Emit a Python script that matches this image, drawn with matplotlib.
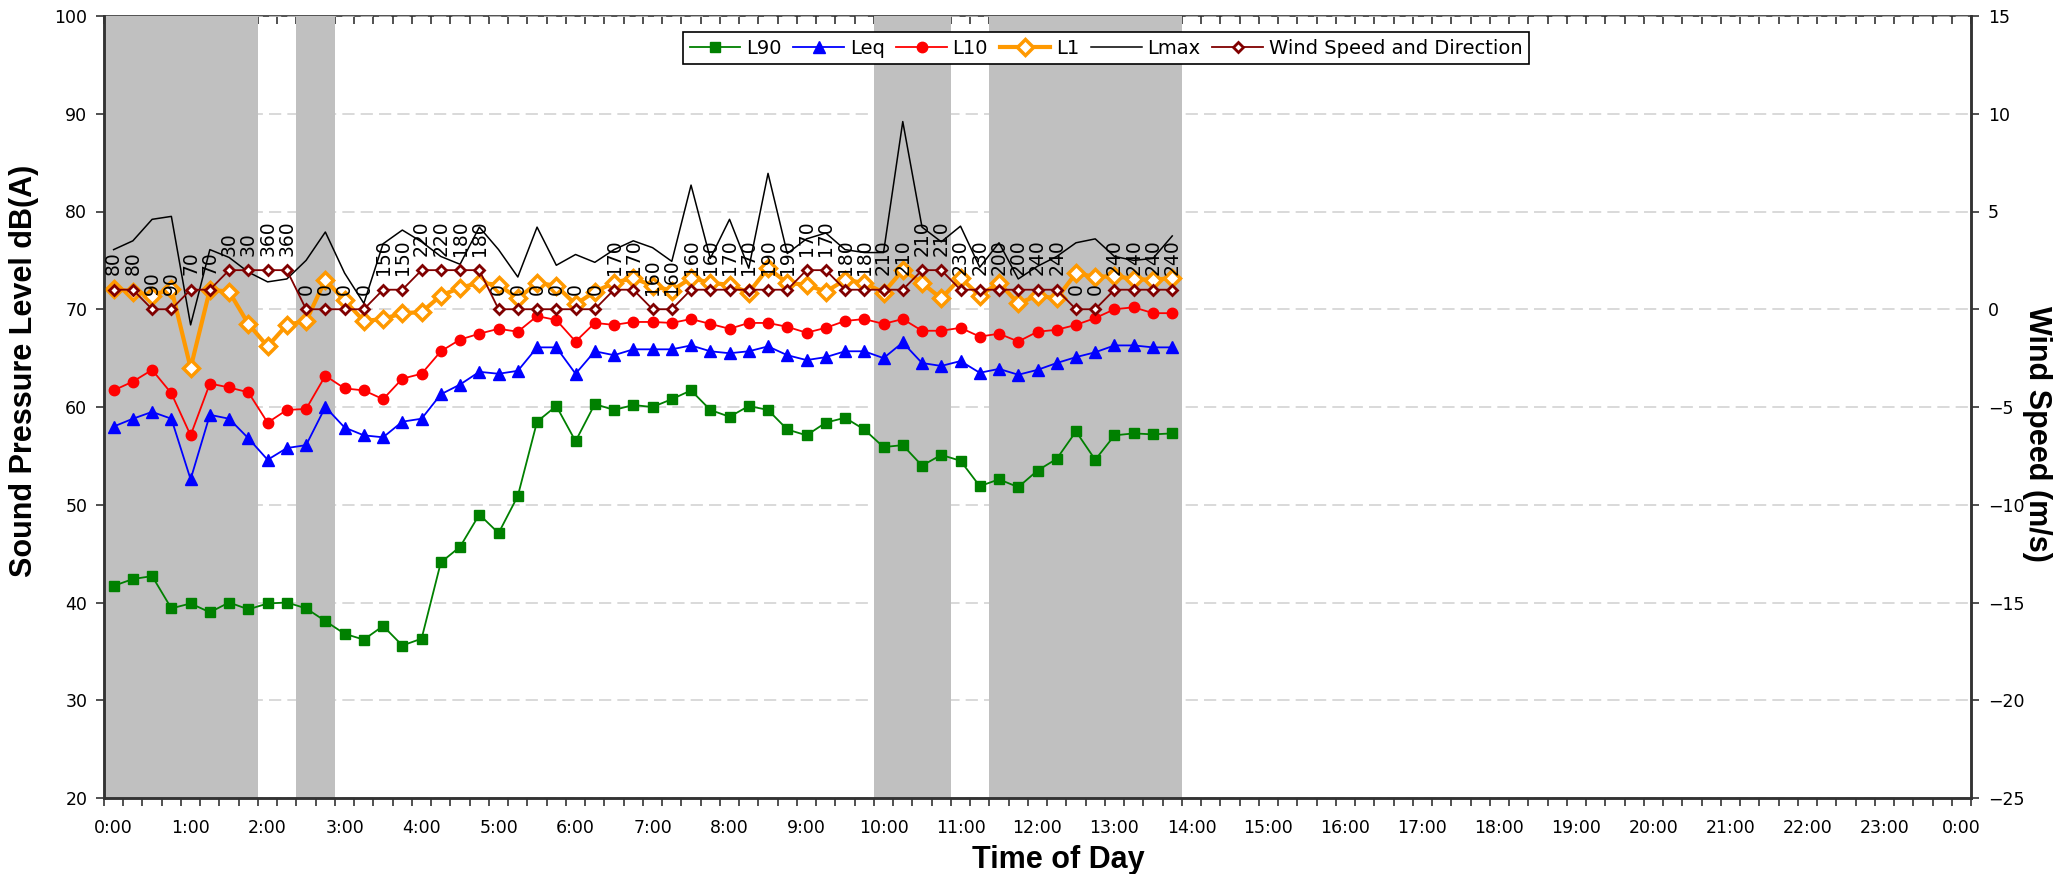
import numpy as np
import matplotlib
matplotlib.use("Agg")
import matplotlib.pyplot as plt
from matplotlib.ticker import MultipleLocator, FixedLocator

# 15-minute sample index (0 = 0:00)
L90 = [41.7, 42.4, 42.7, 39.4, 39.9, 39.0, 40.0, 39.3, 39.9, 40.0,
       39.4, 38.1, 36.8, 36.2, 37.6, 35.6, 36.3, 44.1, 45.7, 49.0,
       47.1, 50.9, 58.5, 60.1, 56.5, 60.3, 59.7, 60.2, 60.0, 60.8,
       61.7, 59.7, 59.0, 60.1, 59.7, 57.7, 57.1, 58.4, 58.9, 57.7,
       55.9, 56.1, 54.0, 55.1, 54.5, 51.9, 52.6, 51.8, 53.5, 54.7,
       57.5, 54.6, 57.1, 57.3, 57.2, 57.3]
Leq = [58.0, 58.8, 59.5, 58.8, 52.6, 59.2, 58.8, 56.8, 54.6, 55.8,
       56.1, 60.0, 57.9, 57.1, 56.9, 58.5, 58.8, 61.3, 62.3, 63.6,
       63.4, 63.7, 66.1, 66.1, 63.4, 65.7, 65.3, 65.9, 65.9, 65.9,
       66.3, 65.7, 65.5, 65.7, 66.2, 65.3, 64.8, 65.1, 65.7, 65.7,
       65.0, 66.6, 64.5, 64.2, 64.7, 63.5, 63.9, 63.3, 63.8, 64.5,
       65.1, 65.6, 66.3, 66.3, 66.1, 66.1]
L10 = [61.7, 62.6, 63.8, 61.4, 57.1, 62.4, 62.0, 61.5, 58.4, 59.7,
       59.8, 63.2, 61.9, 61.7, 60.8, 62.9, 63.4, 65.7, 66.9, 67.5,
       68.0, 67.7, 69.3, 68.9, 66.7, 68.6, 68.4, 68.7, 68.7, 68.6,
       69.0, 68.5, 68.0, 68.6, 68.6, 68.2, 67.6, 68.1, 68.8, 69.0,
       68.5, 69.0, 67.8, 67.8, 68.1, 67.2, 67.5, 66.7, 67.7, 67.9,
       68.4, 69.1, 70.0, 70.2, 69.6, 69.6]
L1 = [72.1, 71.8, 71.4, 72.1, 64.0, 72.0, 71.8, 68.5, 66.2, 68.4,
      68.8, 73.0, 70.9, 68.8, 69.0, 69.6, 69.7, 71.4, 72.2, 72.7,
      72.5, 71.1, 72.7, 72.4, 70.5, 71.8, 72.7, 73.2, 72.4, 71.9,
      73.2, 72.7, 72.5, 71.7, 74.2, 72.7, 72.5, 71.8, 73.0, 72.7,
      71.7, 74.0, 72.7, 71.1, 73.2, 71.4, 72.7, 70.6, 71.4, 71.1,
      73.7, 73.3, 73.4, 73.1, 73.0, 73.2]
Lmax = [76.1, 77.0, 79.2, 79.5, 68.4, 76.1, 75.3, 73.8, 72.8, 73.1,
        75.0, 77.9, 73.7, 70.6, 76.7, 78.1, 76.9, 75.4, 74.6, 78.4,
        76.1, 73.3, 78.4, 74.5, 75.6, 74.8, 76.1, 77.0, 76.3, 74.9,
        82.7, 75.2, 79.2, 74.2, 83.9, 75.7, 77.2, 77.8, 76.1, 75.8,
        75.8, 89.2, 78.4, 76.9, 78.5, 74.3, 76.8, 73.1, 74.4, 75.4,
        76.8, 77.2, 75.4, 75.0, 75.2, 77.5]
wind_speed = [1, 1, 0, 0, 1, 1, 2, 2, 2, 2,
              0, 0, 0, 0, 1, 1, 2, 2, 2, 2,
              0, 0, 0, 0, 0, 0, 1, 1, 0, 0,
              1, 1, 1, 1, 1, 1, 2, 2, 1, 1,
              1, 1, 2, 2, 1, 1, 1, 1, 1, 1,
              0, 0, 1, 1, 1, 1]
wind_dir = [80, 80, 90, 90, 70, 70, 30, 30, 360, 360,
            0, 0, 0, 0, 150, 150, 220, 220, 180, 180,
            0, 0, 0, 0, 0, 0, 170, 170, 160, 160,
            160, 160, 170, 170, 190, 190, 170, 170, 180, 180,
            210, 210, 210, 210, 230, 230, 200, 200, 240, 240,
            0, 0, 240, 240, 240, 240]
# shaded periods, as (first, last) sample index
shaded = [(0, 7), (10, 11), (40, 43), (46, 55)]
hour_labels = [f"{h}:00" for h in range(24)] + ["0:00"]

n_cat = 97  # 15-minute slots from 0:00 to 24:00
x = np.arange(len(L90))

plt.rcParams['font.family'] = ['DejaVu Sans']
fig = plt.figure(figsize=(20.65, 8.74), dpi=100)
ax = fig.add_axes([104 / 2065, 76 / 874, 1867 / 2065, 782 / 874])
ax2 = ax.twinx()

ax.set_xlim(-0.5, n_cat - 0.5)
ax.set_ylim(20, 100)
ax2.set_ylim(-25, 15)

ax.set_axisbelow(True)
ax.yaxis.grid(True, color='#d0d0d0', linestyle=(0, (8, 4)), linewidth=1.1)

for a, b in shaded:
    ax.axvspan(a - 0.5, b + 0.5, color='#c0c0c0', lw=0, zorder=1)

ax.plot(x, L90, color='#008000', lw=1.3, marker='s', ms=7.5,
        mfc='#008000', mec='#008000', label='L90', zorder=3)
ax.plot(x, Leq, color='#0000ff', lw=1.3, marker='^', ms=8,
        mfc='#0000ff', mec='#0000ff', label='Leq', zorder=3)
ax.plot(x, L10, color='#ff0000', lw=1.3, marker='o', ms=7.5,
        mfc='#ff0000', mec='#ff0000', label='L10', zorder=3)
ax.plot(x, L1, color='#ff9900', lw=3, marker='D', ms=8.5,
        mfc='white', mec='#ff9900', mew=2.5, label='L1', zorder=3)
ax.plot(x, Lmax, color='black', lw=1.1, label='Lmax', zorder=3)

ax2.plot(x, wind_speed, color='#800000', lw=1.3, marker='D', ms=5.5,
         mfc='white', mec='#800000', mew=2, label='Wind Speed and Direction', zorder=4)
for xi, s, d in zip(x, wind_speed, wind_dir):
    ax2.annotate(str(d), (xi, s), xytext=(0, 10.5), textcoords='offset points',
                 rotation=90, ha='center', va='bottom', fontsize=13.5, color='black')

# x axis: labels at the hour slots, tick marks on slot boundaries
ax.xaxis.set_major_locator(FixedLocator(np.arange(0, n_cat, 4)))
ax.set_xticklabels(hour_labels)
ax.xaxis.set_minor_locator(FixedLocator(np.arange(-0.5, n_cat, 1)))
ax.tick_params(axis='x', which='major', length=0, pad=15, labelsize=12.5)
ax.tick_params(axis='x', which='minor', length=6, width=1.2, direction='out',
               color='#333333')

top = ax.secondary_xaxis('top')
top.xaxis.set_major_locator(FixedLocator(np.arange(-0.5, n_cat, 1)))
top.tick_params(axis='x', which='major', direction='in', length=6, width=1.2,
                labeltop=False, color='#333333')
top.spines['top'].set_color('#333333')
top.spines['top'].set_linewidth(1.2)

ax.yaxis.set_major_locator(MultipleLocator(10))
ax.yaxis.set_minor_locator(MultipleLocator(1))
ax.tick_params(axis='y', which='major', direction='out', length=6, width=1.2,
               pad=6, labelsize=12.5, color='#333333')
ax.tick_params(axis='y', which='minor', direction='in', length=5, width=1.2,
               color='#333333')

ax2.yaxis.set_major_locator(MultipleLocator(5))
ax2.tick_params(axis='y', which='major', direction='out', length=6, width=1.2,
                pad=6, labelsize=12.5, color='#333333')

for a in (ax, ax2):
    a.spines['top'].set_visible(False)
    for side in ('left', 'right', 'bottom'):
        a.spines[side].set_color('#333333')
        a.spines[side].set_linewidth(1.8)

fig.text(24 / 2065, 1 - 371 / 874, 'Sound Pressure Level dB(A)', rotation=90,
         ha='center', va='center', fontsize=22, fontweight='bold',
         family='Liberation Sans')
fig.text(2037 / 2065, 1 - 434 / 874, 'Wind Speed (m/s)', rotation=270,
         ha='center', va='center', fontsize=22, fontweight='bold',
         family='Liberation Sans')
fig.text(1058 / 2065, 1 - 860 / 874, 'Time of Day', ha='center', va='center',
         fontsize=22, fontweight='bold', family='Liberation Sans')

h1, l1 = ax.get_legend_handles_labels()
h2, l2 = ax2.get_legend_handles_labels()
leg = ax2.legend(h1 + h2, l1 + l2, loc='center', bbox_to_anchor=(0.5367, 0.959),
                 ncol=6, fontsize=14, frameon=True, fancybox=False,
                 edgecolor='black', framealpha=1, handlelength=2.6,
                 handletextpad=0.3, columnspacing=0.6, borderpad=0.35)
leg.get_frame().set_linewidth(1.2)
leg.set_zorder(10)

fig.savefig('out.png', dpi=100)
